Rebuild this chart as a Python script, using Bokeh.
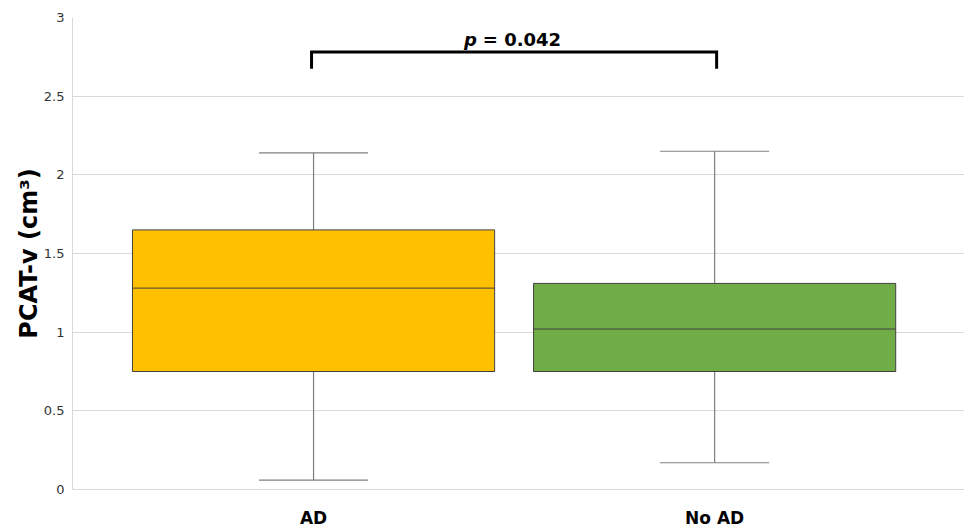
from bokeh.plotting import figure
from bokeh.models import ColumnDataSource, FixedTicker, Range1d
from bokeh.core.properties import value
from bokeh.embed import file_html
from bokeh.resources import INLINE

# ---- data ----
groups = ["AD", "No AD"]
group_pos = [1, 2]
whisker_low = [0.06, 0.17]
q1 = [0.75, 0.75]
median = [1.28, 1.02]
q3 = [1.65, 1.31]
whisker_high = [2.14, 2.15]
box_colors = ["#FFC000", "#70AD47"]
y_ticks = [0, 0.5, 1, 1.5, 2, 2.5, 3]
y_tick_labels = ["0", "0.5", "1", "1.5", "2", "2.5", "3"]
p_label = "= 0.042"
bracket_top = 2.78
bracket_bottom = 2.675

FONT = "DejaVu Sans"
BOX_W = 0.903
CAP_W = 0.272

p = figure(width=964, height=530, output_backend="svg", toolbar_location=None,
           x_range=Range1d(0.399, 2.623), y_range=Range1d(0, 3),
           min_border_left=72, min_border_right=0, min_border_top=17, min_border_bottom=40)
p.outline_line_color = None
p.background_fill_color = "white"

# grid
p.xgrid.grid_line_color = None
p.ygrid.grid_line_color = "#d9d9d9"
p.ygrid.ticker = FixedTicker(ticks=y_ticks)

# y axis
p.yaxis.ticker = FixedTicker(ticks=y_ticks)
p.yaxis.major_label_overrides = {t: l for t, l in zip(y_ticks, y_tick_labels)}
p.yaxis.axis_line_color = "#d9d9d9"
p.yaxis.major_tick_line_color = None
p.yaxis.minor_tick_line_color = None
p.yaxis.major_label_text_font = FONT
p.yaxis.major_label_text_font_size = "13px"
p.yaxis.major_label_text_color = "#333333"
p.yaxis.major_label_standoff = 2
p.yaxis.axis_label = "PCAT-v (cm³)"
p.yaxis.axis_label_text_font = FONT
p.yaxis.axis_label_text_font_style = "bold"
p.yaxis.axis_label_text_font_size = "24px"
p.yaxis.axis_label_text_color = "black"
p.yaxis.axis_label_standoff = -2

# x axis
p.xaxis.ticker = FixedTicker(ticks=group_pos)
p.xaxis.major_label_overrides = {g: n for g, n in zip(group_pos, groups)}
p.xaxis.axis_line_color = "#d9d9d9"
p.xaxis.major_tick_line_color = None
p.xaxis.minor_tick_line_color = None
p.xaxis.major_label_text_font = FONT
p.xaxis.major_label_text_font_style = "bold"
p.xaxis.major_label_text_font_size = "17px"
p.xaxis.major_label_text_color = "black"
p.xaxis.major_label_standoff = 12

x0_cap = [g - CAP_W / 2 for g in group_pos]
x1_cap = [g + CAP_W / 2 for g in group_pos]
x0_box = [g - BOX_W / 2 for g in group_pos]
x1_box = [g + BOX_W / 2 for g in group_pos]

src = ColumnDataSource(dict(x=group_pos, lo=whisker_low, q1=q1, med=median,
                            q3=q3, hi=whisker_high, color=box_colors,
                            cx0=x0_cap, cx1=x1_cap, bx0=x0_box, bx1=x1_box))

WC = "#7f7f7f"
# whiskers
p.segment(x0="x", y0="q3", x1="x", y1="hi", source=src, line_color=WC, line_width=1.2)
p.segment(x0="x", y0="q1", x1="x", y1="lo", source=src, line_color=WC, line_width=1.2)
p.segment(x0="cx0", y0="hi", x1="cx1", y1="hi", source=src, line_color=WC, line_width=1.2)
p.segment(x0="cx0", y0="lo", x1="cx1", y1="lo", source=src, line_color=WC, line_width=1.2)

# boxes
p.quad(left="bx0", right="bx1", bottom="q1", top="q3", source=src,
       fill_color="color", line_color="#404040", line_width=1)
p.segment(x0="bx0", y0="med", x1="bx1", y1="med", source=src,
          line_color="#404040", line_width=1)

# significance bracket
bx = [group_pos[0] - 0.005, group_pos[0] - 0.005, group_pos[1] + 0.005, group_pos[1] + 0.005]
by = [bracket_bottom, bracket_top, bracket_top, bracket_bottom]
p.line(bx, by, line_color="black", line_width=3, line_join="miter")

mid = (group_pos[0] + group_pos[1]) / 2
p.text(x=[mid - 0.093], y=[2.86], text=["p"], text_font=value(FONT),
       text_font_style="bold italic", text_font_size="18px", text_align="right",
       text_baseline="middle", text_color="black")
p.text(x=[mid - 0.078], y=[2.86], text=[p_label], text_font=value(FONT),
       text_font_style="bold", text_font_size="18px", text_align="left",
       text_baseline="middle", text_color="black")

open("out.html", "w").write(file_html(p, INLINE))
